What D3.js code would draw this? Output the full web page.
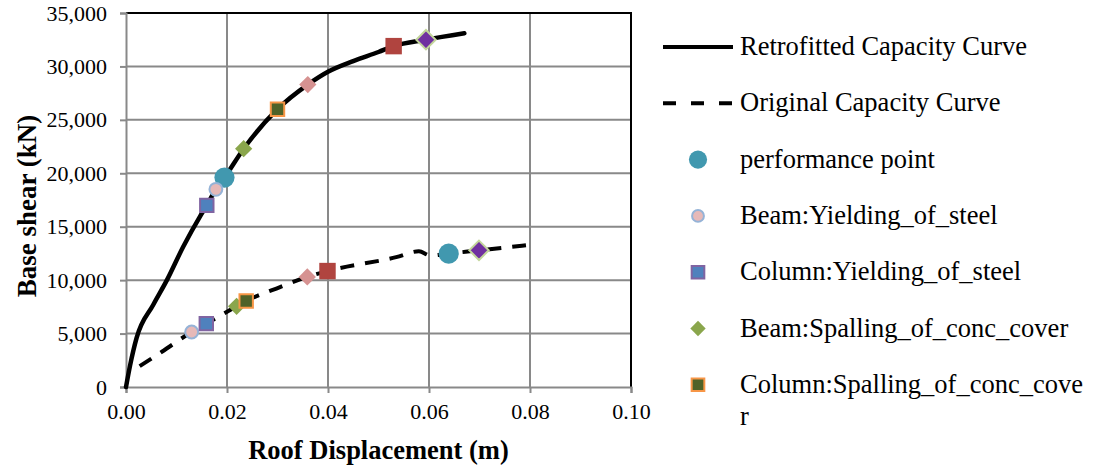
<!DOCTYPE html>
<html>
<head>
<meta charset="utf-8">
<script src="https://cdn.jsdelivr.net/npm/d3@7"></script>
<style>
  body { margin: 0; background: #fff; }
  svg text { font-family: "Liberation Serif", "Times New Roman", serif; fill: #000; }
</style>
</head>
<body>
<div id="chart"></div>
<script>
// capacity curves [roof displacement (m), base shear (kN)]
const retrofitted = [
  [0, 0], [0.0008, 2000], [0.0021, 4600], [0.0054, 7700], [0.0081, 10000],
  [0.0113, 13100], [0.0147, 16000], [0.016, 17000],
  [0.0178, 18500], [0.0195, 19600], [0.0233, 22300], [0.030, 26000],
  [0.036, 28300], [0.040, 29500], [0.045, 30500], [0.050, 31350],
  [0.053, 31900], [0.0594, 32500], [0.067, 33100]
];
const original = [
  [0.0027, 1950], [0.0071, 3300], [0.013, 5150], [0.0159, 5930],
  [0.0219, 7550], [0.0238, 8050], [0.0305, 9350], [0.0359, 10300],
  [0.0399, 10850], [0.0535, 12150], [0.058, 12700], [0.0603, 12300],
  [0.0639, 12480], [0.0699, 12790], [0.0792, 13260]
];

// damage state points on the two curves
const performancePoint = [[0.0195, 19600], [0.0639, 12480]];
const beamYielding = [[0.0178, 18500], [0.013, 5150]];
const columnYielding = [[0.016, 17000], [0.0159, 5930]];
const beamSpalling = [[0.0233, 22300], [0.0219, 7550]];
const columnSpalling = [[0.030, 26000], [0.0238, 8050]];
const beamCrushing = [[0.036, 28300], [0.0359, 10300]];
const columnCrushing = [[0.053, 31900], [0.0399, 10850]];
const collapse = [[0.0594, 32500], [0.0699, 12790]];

const xTicks = [0, 0.02, 0.04, 0.06, 0.08, 0.10];
const yTicks = [0, 5000, 10000, 15000, 20000, 25000, 30000, 35000];

const legendLabels = [
  'Retrofitted Capacity Curve',
  'Original Capacity Curve',
  'performance point',
  'Beam:Yielding_of_steel',
  'Column:Yielding_of_steel',
  'Beam:Spalling_of_conc_cover',
  'Column:Spalling_of_conc_cove'
];

const width = 1094,
  height = 467,
  plotLeft = 126,
  plotRight = 631,
  plotTop = 13,
  plotBottom = 387;

const x = d3.scaleLinear().domain([0, 0.10]).range([plotLeft, plotRight]);
const y = d3.scaleLinear().domain([0, 35000]).range([plotBottom, plotTop]);

const svg = d3.select('#chart').append('svg')
    .attr('width', width)
    .attr('height', height);

const gridColor = '#898989';

// gridlines
svg.append('g').selectAll('line')
    .data(yTicks.slice(1))
  .enter().append('line')
    .attr('x1', plotLeft).attr('x2', plotRight)
    .attr('y1', (d) => y(d)).attr('y2', (d) => y(d))
    .attr('stroke', gridColor).attr('stroke-width', 2);

svg.append('g').selectAll('line')
    .data(xTicks.slice(1))
  .enter().append('line')
    .attr('x1', (d) => x(d)).attr('x2', (d) => x(d))
    .attr('y1', plotTop).attr('y2', plotBottom)
    .attr('stroke', gridColor).attr('stroke-width', 2);

// black frame on top and right
svg.append('path')
    .attr('d', `M${plotLeft},${plotTop}H${plotRight}V${plotBottom}`)
    .attr('fill', 'none')
    .attr('stroke', '#000')
    .attr('stroke-width', 2);

const xAxis = d3.axisBottom(x).tickValues(xTicks).tickSize(6).tickPadding(10)
    .tickFormat(d3.format('.2f'));
const yAxis = d3.axisLeft(y).tickValues(yTicks).tickSize(6).tickPadding(13)
    .tickFormat(d3.format(','));

const gx = svg.append('g')
    .attr('transform', `translate(0,${plotBottom})`)
    .call(xAxis);
const gy = svg.append('g')
    .attr('transform', `translate(${plotLeft},0)`)
    .call(yAxis);

[gx, gy].forEach((g) => {
  g.select('.domain').attr('stroke', gridColor).attr('stroke-width', 2);
  g.selectAll('.tick line').attr('stroke', gridColor).attr('stroke-width', 2);
  g.selectAll('.tick text')
      .style('font-family', '"Liberation Serif", serif')
      .style('font-size', '22px')
      .attr('fill', '#000');
});

// axis titles
svg.append('text')
    .attr('x', (plotLeft + plotRight) / 2)
    .attr('y', 459)
    .attr('text-anchor', 'middle')
    .style('font-size', '26.5px')
    .style('font-weight', 'bold')
    .text('Roof Displacement (m)');

svg.append('text')
    .attr('transform', `translate(36,206) rotate(-90)`)
    .attr('text-anchor', 'middle')
    .style('font-size', '27px')
    .style('font-weight', 'bold')
    .text('Base shear (kN)');

// curves
const line = d3.line().x((d) => x(d[0])).y((d) => y(d[1])).curve(d3.curveMonotoneX);

svg.append('path')
    .datum(retrofitted)
    .attr('d', line)
    .attr('fill', 'none')
    .attr('stroke', '#000')
    .attr('stroke-width', 4.5)
    .attr('stroke-linecap', 'round');

svg.append('path')
    .datum(original)
    .attr('d', line)
    .attr('fill', 'none')
    .attr('stroke', '#000')
    .attr('stroke-width', 4)
    .attr('stroke-dasharray', '14,11');

// marker series
const series = [
  { data: performancePoint, shape: d3.symbolCircle, size: 320, fill: '#4198AF', stroke: 'none' },
  { data: beamYielding, shape: d3.symbolCircle, size: 130, fill: '#E6B9B8', stroke: '#95B3D7' },
  { data: columnYielding, shape: d3.symbolSquare, size: 180, fill: '#4F81BD', stroke: '#8064A2' },
  { data: beamSpalling, shape: d3.symbolDiamond2, size: 190, fill: '#8AA64C', stroke: 'none' },
  { data: columnSpalling, shape: d3.symbolSquare, size: 180, fill: '#4F6228', stroke: '#F79646' },
  { data: beamCrushing, shape: d3.symbolDiamond2, size: 190, fill: '#D69291', stroke: 'none' },
  { data: columnCrushing, shape: d3.symbolSquare, size: 270, fill: '#B0443F', stroke: 'none' },
  { data: collapse, shape: d3.symbolDiamond2, size: 240, fill: '#7030A0', stroke: '#C3D69B' }
];

series.forEach((s) => {
  svg.append('g').selectAll('path')
      .data(s.data)
    .enter().append('path')
      .attr('transform', (d) => `translate(${x(d[0])},${y(d[1])})`)
      .attr('d', d3.symbol().type(s.shape).size(s.size))
      .attr('fill', s.fill)
      .attr('stroke', s.stroke)
      .attr('stroke-width', 2);
});

// legend
const legendY = (i) => 47 + i * 56.3;
const legend = svg.append('g');

legend.append('line')
    .attr('x1', 663).attr('x2', 733)
    .attr('y1', legendY(0)).attr('y2', legendY(0))
    .attr('stroke', '#000').attr('stroke-width', 4);
legend.append('line')
    .attr('x1', 663).attr('x2', 733)
    .attr('y1', legendY(1)).attr('y2', legendY(1))
    .attr('stroke', '#000').attr('stroke-width', 4)
    .attr('stroke-dasharray', '13,15');

const legendSymbols = [
  { shape: d3.symbolCircle, size: 260, fill: '#4198AF', stroke: 'none' },
  { shape: d3.symbolCircle, size: 110, fill: '#E6B9B8', stroke: '#95B3D7' },
  { shape: d3.symbolSquare, size: 160, fill: '#4F81BD', stroke: '#8064A2' },
  { shape: d3.symbolDiamond2, size: 150, fill: '#8AA64C', stroke: 'none' },
  { shape: d3.symbolSquare, size: 160, fill: '#4F6228', stroke: '#F79646' }
];

legendSymbols.forEach((s, i) => {
  legend.append('path')
      .attr('transform', `translate(698,${legendY(i + 2)})`)
      .attr('d', d3.symbol().type(s.shape).size(s.size))
      .attr('fill', s.fill)
      .attr('stroke', s.stroke)
      .attr('stroke-width', 2);
});

legend.selectAll('text')
    .data(legendLabels)
  .enter().append('text')
    .attr('x', 740)
    .attr('y', (d, i) => legendY(i) + 8)
    .style('font-size', '26.5px')
    .text((d) => d);

legend.append('text')
    .attr('x', 740)
    .attr('y', legendY(6) + 40)
    .style('font-size', '26.5px')
    .text('r');
</script>
</body>
</html>
